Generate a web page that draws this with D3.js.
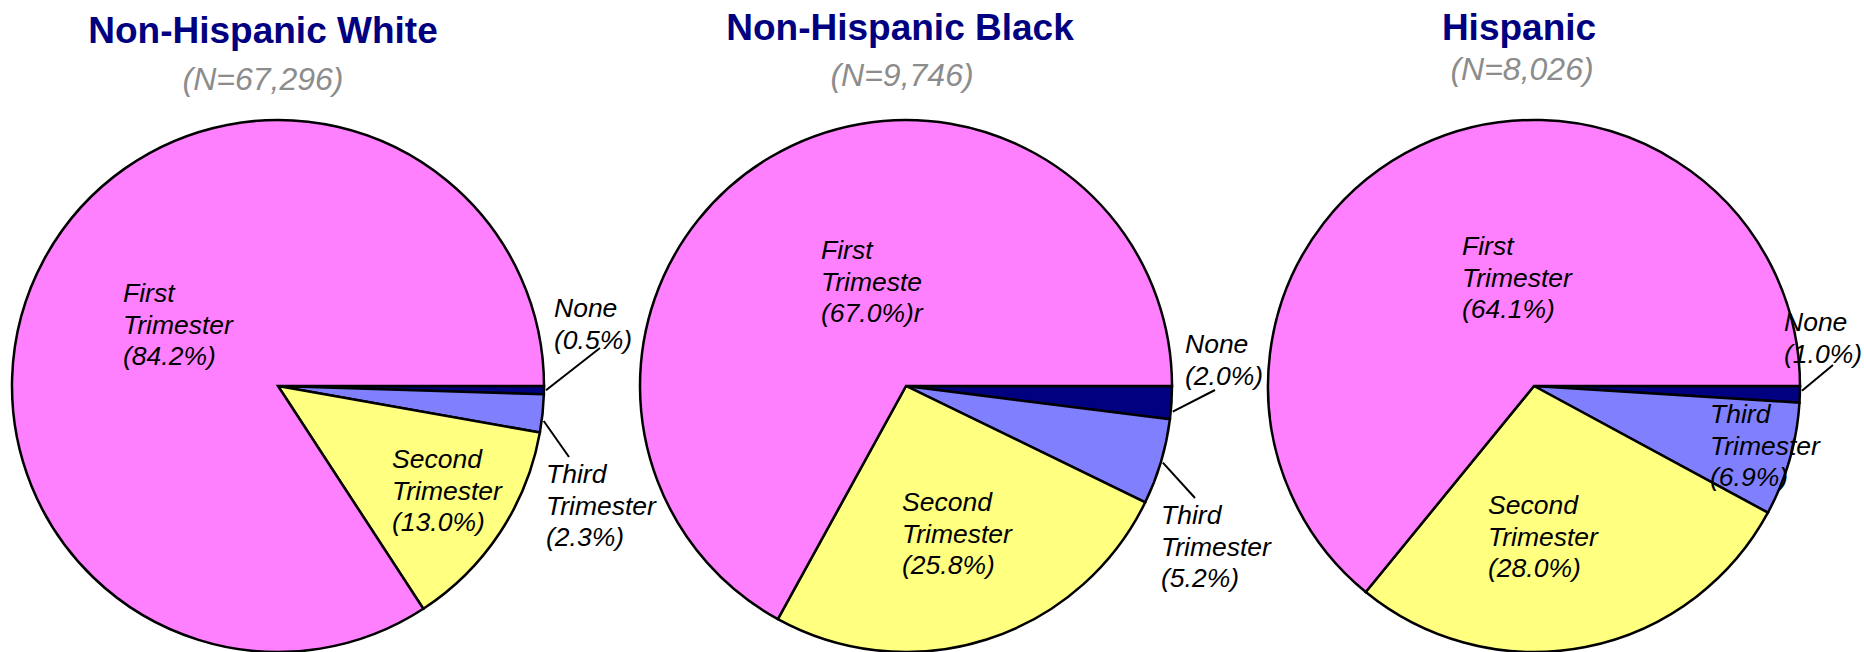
<!DOCTYPE html>
<html>
<head>
<meta charset="utf-8">
<script src="https://cdn.jsdelivr.net/npm/d3@7"></script>
<style>
  html, body { margin: 0; padding: 0; background: #fff; }
  svg { display: block; }
  text { font-family: "Liberation Sans", Arial, sans-serif; }
</style>
</head>
<body>
<script>
// ---------------- DATA ----------------
const groups = ["Non-Hispanic White", "Non-Hispanic Black", "Hispanic"];
const sampleSizes = ["(N=67,296)", "(N=9,746)", "(N=8,026)"];
const categories = ["None", "Third Trimester", "Second Trimester", "First Trimester"];
const noneValues = [0.5, 2.0, 1.0];
const thirdValues = [2.3, 5.2, 6.9];
const secondValues = [13.0, 25.8, 28.0];
const firstValues = [84.2, 67.0, 64.1];
// label text exactly as printed in the source (one entry had a typo)
const labelOverrides = [null, { "First Trimester": ["First", "Trimeste", "(67.0%)r"] }, null];

// ---------------- LAYOUT ----------------
const W = 1864, H = 652;
const colors = ["#000080", "#8080FF", "#FFFF80", "#FF80FF"];
const centersX = [278, 906, 1534];
const centerY = 386;
const radius = 266;
const titleDx = [-15, -6, -15];
const titleY = [43, 40, 40];
const subDx = [-15, -4, -12];
const subY = [90, 86, 80];
const lineGap = 31.5;
// label text origin offsets (first baseline) relative to pie centre, per category order
const labelOffsets = [
  [[276, -69], [268, 97], [114, 82], [-155, -84]],
  [[279, -33], [255, 138], [-4, 125], [-85, -127]],
  [[250, -55], [176, 37], [-46, 128], [-72, -131]]
];
// leader lines: [startAngleDeg (clockwise from 12), endDx, endDy] or null
const leaders = [
  [[90.9, 322, -38], [97.5, 291, 71], null, null],
  [[95.5, 309, 4], [106.6, 289, 112], null, null],
  [[91.0, 299, -21], null, null, null]
];

const svg = d3.select("body").append("svg")
  .attr("width", W).attr("height", H);

const pie = d3.pie().sort(null)
  .startAngle(Math.PI / 2).endAngle(Math.PI / 2 + 2 * Math.PI);
const arc = d3.arc().innerRadius(0).outerRadius(radius);
const color = d3.scaleOrdinal().domain(categories).range(colors);

groups.forEach((g, gi) => {
  const values = [noneValues[gi], thirdValues[gi], secondValues[gi], firstValues[gi]];
  const data = categories.map((c, i) => ({ cat: c, value: values[i] }));
  const arcs = pie.value(d => d.value)(data);
  const cx = centersX[gi];
  const G = svg.append("g").attr("transform", `translate(${cx},${centerY})`);

  G.selectAll("path.slice").data(arcs).enter().append("path")
    .attr("class", "slice")
    .attr("d", arc)
    .attr("fill", d => color(d.data.cat))
    .attr("stroke", "#000")
    .attr("stroke-width", 2.5)
    .attr("stroke-linejoin", "miter");

  // titles
  svg.append("text")
    .attr("x", cx + titleDx[gi]).attr("y", titleY[gi])
    .attr("text-anchor", "middle")
    .attr("font-size", 37).attr("font-weight", "bold")
    .attr("fill", "#000080")
    .text(g);
  svg.append("text")
    .attr("x", cx + subDx[gi]).attr("y", subY[gi])
    .attr("text-anchor", "middle")
    .attr("font-size", 32).attr("font-style", "italic")
    .attr("fill", "#8c8c8c")
    .text(sampleSizes[gi]);

  // leaders
  arcs.forEach((a, i) => {
    const L = leaders[gi][i];
    if (!L) return;
    const ang = L[0] * Math.PI / 180;
    const sx = (radius + 2) * Math.sin(ang), sy = -(radius + 2) * Math.cos(ang);
    G.append("line")
      .attr("x1", sx).attr("y1", sy)
      .attr("x2", L[1]).attr("y2", L[2])
      .attr("stroke", "#000").attr("stroke-width", 2);
  });

  // labels
  arcs.forEach((a, i) => {
    const cat = a.data.cat;
    const ov = labelOverrides[gi] && labelOverrides[gi][cat];
    const lines = ov ? ov : cat.split(" ").concat([`(${a.data.value.toFixed(1)}%)`]);
    const off = labelOffsets[gi][i];
    const t = G.append("text")
      .attr("x", off[0]).attr("y", off[1])
      .attr("font-size", 26.5).attr("font-style", "italic")
      .attr("fill", "#000");
    lines.forEach((ln, li) => {
      t.append("tspan").attr("x", off[0]).attr("dy", li === 0 ? 0 : lineGap).text(ln);
    });
  });
});
</script>
</body>
</html>
